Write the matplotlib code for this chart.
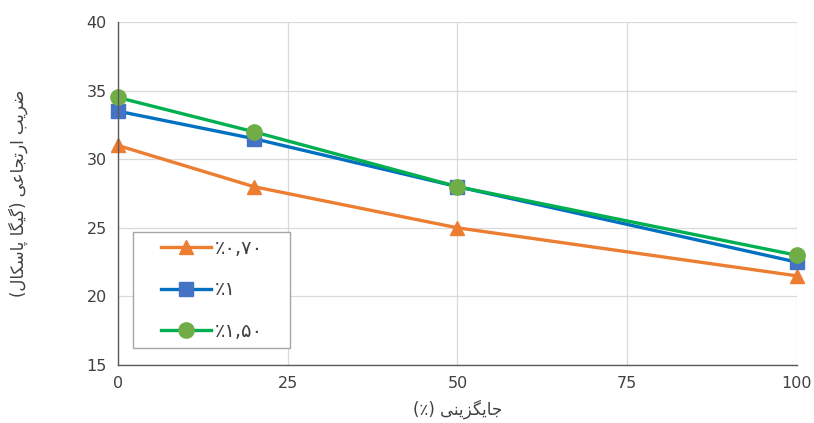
import matplotlib
matplotlib.use('Agg')
import matplotlib.pyplot as plt
from matplotlib.patches import Rectangle

# داده‌ها
jaygozini = [0, 20, 50, 100]
seri_070 = [31.0, 28.0, 25.0, 21.5]
seri_1 = [33.5, 31.5, 28.0, 22.5]
seri_150 = [34.5, 32.0, 28.0, 23.0]
barchasb_ha = ['٪۰,۷۰', '٪۱', '٪۱,۵۰']

x_label = 'جایگزینی (٪)'
y_label = 'ضریب ارتجاعی (گیگا پاسکال)'

# شکل‌دهی ساده حروف فارسی (matplotlib خودش این کار را نمی‌کند)
FORMS = {
    'ا': ('\uFE8D', '\uFE8E', None, None),
    'ب': ('\uFE8F', '\uFE90', '\uFE91', '\uFE92'),
    'پ': ('\uFB56', '\uFB57', '\uFB58', '\uFB59'),
    'ت': ('\uFE95', '\uFE96', '\uFE97', '\uFE98'),
    'ج': ('\uFE9D', '\uFE9E', '\uFE9F', '\uFEA0'),
    'ر': ('\uFEAD', '\uFEAE', None, None),
    'ز': ('\uFEAF', '\uFEB0', None, None),
    'س': ('\uFEB1', '\uFEB2', '\uFEB3', '\uFEB4'),
    'ض': ('\uFEBD', '\uFEBE', '\uFEBF', '\uFEC0'),
    'ع': ('\uFEC9', '\uFECA', '\uFECB', '\uFECC'),
    'ک': ('\uFB8E', '\uFB8F', '\uFB90', '\uFB91'),
    'گ': ('\uFB92', '\uFB93', '\uFB94', '\uFB95'),
    'ل': ('\uFEDD', '\uFEDE', '\uFEDF', '\uFEE0'),
    'ن': ('\uFEE5', '\uFEE6', '\uFEE7', '\uFEE8'),
    'ی': ('\uFBFC', '\uFBFD', '\uFBFE', '\uFBFF'),
}


def joins_left(c):
    return c in FORMS and FORMS[c][2] is not None


def shape(text):
    out = []
    for i, c in enumerate(text):
        if c not in FORMS:
            out.append(c)
            continue
        prev = text[i - 1] if i > 0 else ''
        nxt = text[i + 1] if i + 1 < len(text) else ''
        a = joins_left(prev)
        b = joins_left(c) and nxt in FORMS
        iso, fin, ini, med = FORMS[c]
        if a and b:
            out.append(med)
        elif a:
            out.append(fin)
        elif b:
            out.append(ini)
        else:
            out.append(iso)
    vis = ''.join(reversed(out))
    return vis.translate(str.maketrans('()', ')('))


plt.rcParams['font.family'] = ['DejaVu Sans']

fig = plt.figure(figsize=(8.14, 4.23), dpi=100)
ax = fig.add_axes([0.145, 0.137, 0.834, 0.811])

ax.plot(jaygozini, seri_070, color='#ED7D31', lw=2.4, marker='^', ms=10,
        mfc='#ED7D31', mec='#ED7D31', label=barchasb_ha[0], clip_on=False)
ax.plot(jaygozini, seri_1, color='#0070C0', lw=2.4, marker='s', ms=10,
        mfc='#4472C4', mec='#4472C4', label=barchasb_ha[1], clip_on=False)
ax.plot(jaygozini, seri_150, color='#00B050', lw=2.4, marker='o', ms=11,
        mfc='#70AD47', mec='#70AD47', label=barchasb_ha[2], clip_on=False)

ax.set_xlim(0, 100)
ax.set_ylim(15, 40)
ax.set_xticks([0, 25, 50, 75, 100])
ax.set_yticks([15, 20, 25, 30, 35, 40])
ax.grid(True, color='#D9D9D9', lw=0.9)
ax.set_axisbelow(True)
for s in ['top', 'right']:
    ax.spines[s].set_visible(False)
for s in ['left', 'bottom']:
    ax.spines[s].set_color('#595959')
    ax.spines[s].set_linewidth(1.0)
ax.tick_params(length=0, labelsize=11.5, colors='#404040', pad=8)

ax.set_xlabel(shape(x_label), fontsize=12, color='#404040', labelpad=6)
ax.set_ylabel(shape(y_label), fontsize=12, color='#404040', labelpad=42)

# کادر لگند جدا رسم می‌شود تا محتوا وسط آن قرار بگیرد
kadr = Rectangle((0.022, 0.05), 0.232, 0.338, transform=ax.transAxes,
                 facecolor='white', edgecolor='#A6A6A6', lw=1.0, zorder=4)
ax.add_patch(kadr)

leg = ax.legend(loc='center', bbox_to_anchor=(0.022 + 0.116, 0.05 + 0.169),
                fontsize=14, frameon=False, labelspacing=1.15, handlelength=2.6,
                borderpad=0.35, handletextpad=0.15, borderaxespad=0)
leg.set_zorder(5)
for t in leg.get_texts():
    t.set_color('#404040')

fig.savefig('out.png', dpi=100)
